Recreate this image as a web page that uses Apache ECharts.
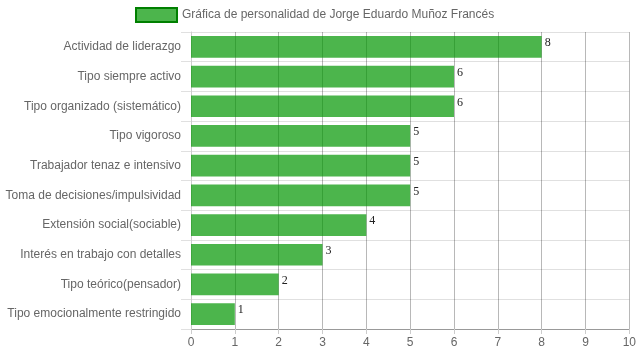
<!DOCTYPE html>
<html><head><meta charset="utf-8">
<script src="https://cdn.jsdelivr.net/npm/echarts@6/dist/echarts.min.js"></script>
<style>html,body{margin:0;padding:0;background:#fff}#c{width:639px;height:360px}</style>
</head><body><div id="c"></div>
<script>
const categories = [
  'Actividad de liderazgo',
  'Tipo siempre activo',
  'Tipo organizado (sistemático)',
  'Tipo vigoroso',
  'Trabajador tenaz e intensivo',
  'Toma de decisiones/impulsividad',
  'Extensión social(sociable)',
  'Interés en trabajo con detalles',
  'Tipo teórico(pensador)',
  'Tipo emocionalmente restringido'
];
const values = [8, 6, 6, 5, 5, 5, 4, 3, 2, 1];
const seriesName = 'Gráfica de personalidad de Jorge Eduardo Muñoz Francés';
const xTicks = { min: 0, max: 10, interval: 1 };

const chart = echarts.init(document.getElementById('c'), null, { renderer: 'canvas' });
chart.setOption({
  animation: false,
  textStyle: { fontFamily: 'Liberation Sans, Arial, sans-serif' },
  legend: {
    top: 7, left: 135, padding: 0,
    itemWidth: 41, itemHeight: 14, itemGap: 10,
    textStyle: { color: '#666', fontSize: 12, fontFamily: 'Liberation Sans, Arial, sans-serif' },
    data: [{ name: seriesName, icon: 'rect', itemStyle: { color: 'rgba(0,150,0,0.7)', borderColor: 'rgb(0,128,0)', borderWidth: 2 } }]
  },
  grid: { left: 191, right: 9, top: 32, bottom: 31, containLabel: false },
  xAxis: {
    type: 'value', min: xTicks.min, max: xTicks.max, interval: xTicks.interval,
    axisLine: { show: true, lineStyle: { color: '#999' } },
    axisTick: { show: true, length: 5, lineStyle: { color: '#ccc' } },
    axisLabel: { color: '#666', fontSize: 12, margin: 8 },
    splitLine: { show: true, lineStyle: { color: 'rgba(0,0,0,0.28)' } }
  },
  yAxis: {
    type: 'category', data: categories, inverse: true,
    axisLine: { show: true, lineStyle: { color: '#ccc' } },
    axisTick: { show: true, length: 10, lineStyle: { color: '#e0e0e0' } },
    axisLabel: { color: '#666', fontSize: 12, margin: 10 },
    splitLine: { show: true, lineStyle: { color: '#e0e0e0' } }
  },
  series: [{
    name: seriesName, type: 'bar', data: values,
    barCategoryGap: '27%',
    itemStyle: { color: 'rgba(0,150,0,0.7)' },
    label: {
      show: true, position: ['100%', 0], offset: [3, 1],
      align: 'left', verticalAlign: 'top',
      color: '#222', fontSize: 12, fontFamily: 'Liberation Serif, Times New Roman, serif'
    }
  }]
});
</script></body></html>
